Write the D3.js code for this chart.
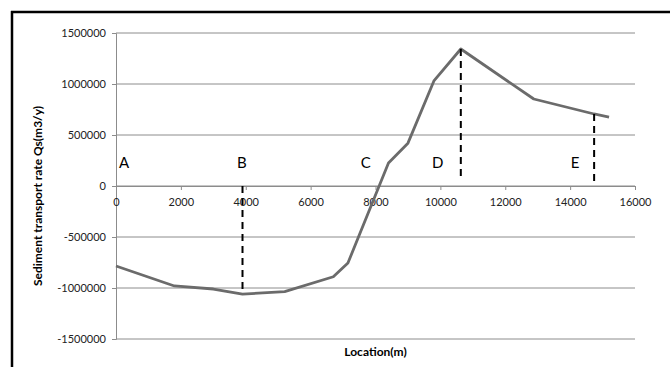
<html>
  <head>
    <meta charset="utf-8">
    <style>
      body { margin: 0; background: #fff; }
      text { font-family: Lato, "Open Sans", sans-serif; }
      .grid line { stroke: #8c8c8c; stroke-width: 1px; }
      .tick-label { font-size: 11px; fill: #222; }
    </style>
  </head>
  <body>
    <script src="https://d3js.org/d3.v7.min.js"></script>
    <script>
    var width = 670, height = 367;

    // sediment transport along the coast
    var location_m = [0, 1800, 3000, 3900, 5200, 6700, 7150, 8400, 9000, 9800, 10630, 12880, 14740, 15200];
    var qs = [-784000, -980000, -1010000, -1060000, -1035000, -890000, -755000, 225000, 420000, 1030000, 1343000, 853000, 706000, 676000];

    var xTicks = [0, 2000, 4000, 6000, 8000, 10000, 12000, 14000, 16000];
    var yTicks = [-1500000, -1000000, -500000, 0, 500000, 1000000, 1500000];

    // section letters and dashed markers
    var sectionNames = ["A", "B", "C", "D", "E"];
    var sectionX = [250, 3880, 7700, 9920, 14150];
    var sectionY = 225000;
    var markerX = [3900, 10630, 14740];
    var markerTop = [0, 1343000, 706000];
    var markerBottom = [-1060000, 70000, 40000];

    var x = d3.scaleLinear().domain([0, 16000]).range([116, 635]);
    var y = d3.scaleLinear().domain([-1500000, 1500000]).range([339, 33]);

    var plain = function(d){ return String(d); };  // keep ascii hyphen for negatives

    var svg = d3.select("body").append("svg")
        .attr("width", width)
        .attr("height", height);

    // frame (only top and left edges are in view)
    svg.append("line").attr("x1", 11).attr("x2", width).attr("y1", 12).attr("y2", 12)
        .attr("stroke", "#000").attr("stroke-width", 2.5);
    svg.append("line").attr("x1", 12).attr("x2", 12).attr("y1", 11).attr("y2", height)
        .attr("stroke", "#000").attr("stroke-width", 2.5);

    // horizontal gridlines
    svg.append("g").attr("class", "grid")
      .selectAll("line").data(yTicks).enter().append("line")
        .attr("x1", x(0)).attr("x2", x(16000))
        .attr("y1", function(d){ return y(d); })
        .attr("y2", function(d){ return y(d); });

    // y axis
    var yAxis = svg.append("g")
        .attr("transform", "translate(" + x(0) + ",0)")
        .call(d3.axisLeft(y).tickValues(yTicks).tickSize(4).tickFormat(plain));
    yAxis.select(".domain").attr("stroke", "#8c8c8c");
    yAxis.selectAll(".tick line").attr("stroke", "#8c8c8c");
    yAxis.selectAll("text").attr("class", "tick-label").attr("x", -10);
    yAxis.attr("font-family", null).attr("font-size", null);

    // x axis along zero
    var xAxis = svg.append("g")
        .attr("transform", "translate(0," + y(0) + ")")
        .call(d3.axisBottom(x).tickValues(xTicks).tickSize(4).tickSizeOuter(0).tickFormat(plain));
    xAxis.select(".domain").attr("stroke", "#8c8c8c");
    xAxis.selectAll(".tick line").attr("stroke", "#8c8c8c");
    xAxis.selectAll("text").attr("class", "tick-label").attr("y", 12);
    xAxis.attr("font-family", null).attr("font-size", null);

    // series line
    var pts = location_m.map(function(d, i){ return [d, qs[i]]; });
    svg.append("path")
        .datum(pts)
        .attr("fill", "none")
        .attr("stroke", "#6b6b6b")
        .attr("stroke-width", 2.8)
        .attr("stroke-linejoin", "round")
        .attr("d", d3.line().x(function(d){ return x(d[0]); }).y(function(d){ return y(d[1]); }));

    // dashed markers
    svg.append("g").selectAll("line").data(markerX).enter().append("line")
        .attr("x1", function(d){ return x(d); })
        .attr("x2", function(d){ return x(d); })
        .attr("y1", function(d, i){ return y(markerTop[i]); })
        .attr("y2", function(d, i){ return y(markerBottom[i]); })
        .attr("stroke", "#000")
        .attr("stroke-width", 2)
        .attr("stroke-dasharray", "7,5");

    // section letters
    svg.append("g").selectAll("text").data(sectionNames).enter().append("text")
        .attr("x", function(d, i){ return x(sectionX[i]); })
        .attr("y", y(sectionY))
        .attr("dy", "0.35em")
        .attr("text-anchor", "middle")
        .attr("font-size", 15)
        .attr("fill", "#000")
        .text(function(d){ return d; });

    // axis titles
    svg.append("text")
        .attr("x", (x(0) + x(16000)) / 2)
        .attr("y", 356)
        .attr("text-anchor", "middle")
        .attr("font-size", 12)
        .attr("font-weight", "bold")
        .text("Location(m)");

    svg.append("text")
        .attr("transform", "translate(42,196) rotate(-90)")
        .attr("text-anchor", "middle")
        .attr("font-size", 12)
        .attr("font-weight", "bold")
        .text("Sediment transport rate Qs(m3/y)");
    </script>
  </body>
</html>
